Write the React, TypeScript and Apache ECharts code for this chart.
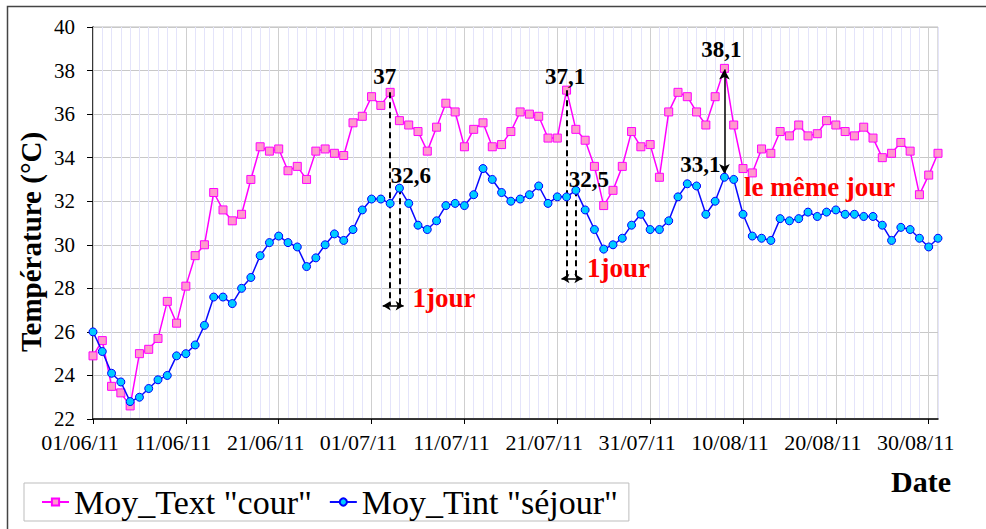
import React, { useEffect, useRef } from "react";
import * as echarts from "echarts";

const dates: string[] = [
  "01/06/11","02/06/11","03/06/11","04/06/11","05/06/11","06/06/11","07/06/11","08/06/11","09/06/11","10/06/11",
  "11/06/11","12/06/11","13/06/11","14/06/11","15/06/11","16/06/11","17/06/11","18/06/11","19/06/11","20/06/11",
  "21/06/11","22/06/11","23/06/11","24/06/11","25/06/11","26/06/11","27/06/11","28/06/11","29/06/11","30/06/11",
  "01/07/11","02/07/11","03/07/11","04/07/11","05/07/11","06/07/11","07/07/11","08/07/11","09/07/11","10/07/11",
  "11/07/11","12/07/11","13/07/11","14/07/11","15/07/11","16/07/11","17/07/11","18/07/11","19/07/11","20/07/11",
  "21/07/11","22/07/11","23/07/11","24/07/11","25/07/11","26/07/11","27/07/11","28/07/11","29/07/11","30/07/11",
  "31/07/11","01/08/11","02/08/11","03/08/11","04/08/11","05/08/11","06/08/11","07/08/11","08/08/11","09/08/11",
  "10/08/11","11/08/11","12/08/11","13/08/11","14/08/11","15/08/11","16/08/11","17/08/11","18/08/11","19/08/11",
  "20/08/11","21/08/11","22/08/11","23/08/11","24/08/11","25/08/11","26/08/11","27/08/11","28/08/11","29/08/11",
  "30/08/11","31/08/11"
];

const textCour: number[] = [
  24.9,25.6,23.5,23.2,22.6,25.0,25.2,25.7,27.4,26.4,28.1,29.5,30.0,32.4,31.6,31.1,
  31.4,33.0,34.5,34.3,34.4,33.4,33.6,33.0,34.3,34.4,34.2,34.1,35.6,35.9,36.8,
  36.4,37.0,35.7,35.5,35.2,34.3,35.4,36.5,36.1,34.5,35.3,35.6,34.5,34.6,35.2,
  36.1,36.0,35.9,34.9,34.9,37.1,35.3,34.8,33.6,31.8,32.5,33.6,35.2,34.5,34.6,
  33.1,36.1,37.0,36.8,36.1,35.5,36.8,38.1,35.5,33.5,33.3,34.4,34.2,35.2,35.0,
  35.5,35.0,35.1,35.7,35.5,35.2,35.0,35.4,34.9,34.0,34.2,34.7,34.3,32.3,33.2,34.2
];

const tintSejour: number[] = [
  26.0,25.1,24.1,23.7,22.8,23.0,23.4,23.8,24.0,24.9,25.0,25.4,26.3,27.6,27.6,27.3,
  28.0,28.5,29.5,30.1,30.4,30.1,29.9,29.0,29.4,30.0,30.5,30.2,30.7,31.6,32.1,
  32.1,31.9,32.6,31.9,30.9,30.7,31.1,31.8,31.9,31.8,32.3,33.5,33.0,32.4,32.0,
  32.1,32.3,32.7,31.9,32.2,32.2,32.5,31.6,30.7,29.8,30.0,30.3,30.9,31.4,30.7,
  30.7,31.1,32.2,32.8,32.7,31.4,32.0,33.1,33.0,31.4,30.4,30.3,30.2,31.2,31.1,
  31.2,31.5,31.3,31.5,31.6,31.4,31.4,31.3,31.3,30.9,30.2,30.8,30.7,30.3,29.9,30.3
];

const seriesNames = ['Moy_Text "cour"', 'Moy_Tint "séjour"'];

const FONT = "'Liberation Serif', 'Times New Roman', serif";

const peakLabelStyle = {
  show: true,
  color: "#000",
  fontFamily: FONT,
  fontSize: 23,
  fontWeight: "bold" as const,
  align: "center",
  verticalAlign: "middle",
};

// annotated points: index -> label text and position (relative to the symbol box)
const textLabels: Record<number, any> = {
  32: { formatter: "37", position: [-1, -11.5] },
  51: { formatter: "37,1", position: [3, -9] },
  68: { formatter: "38,1", position: [1.5, -14.5] },
};
const tintLabels: Record<number, any> = {
  33: { formatter: "32,6", position: [16, -8] },
  52: { formatter: "32,5", position: [17.5, -6.5] },
  68: { formatter: "33,1", position: [-19.5, -8.5] },
};

function buildData(values: number[], labels: Record<number, any>) {
  return values.map((v, i) =>
    labels[i] ? { value: v, label: { ...peakLabelStyle, ...labels[i] } } : v
  );
}

const dashed = { type: [6, 4] as any, color: "#000", width: 2 };
const solid = { type: "solid" as const, color: "#000", width: 1.5 };

export default function App() {
  const ref = useRef<HTMLDivElement>(null);

  useEffect(() => {
    if (!ref.current) return;
    const chart = echarts.init(ref.current, undefined, { renderer: "svg" });

    const gridColors = ["#cfcfcf"];
    for (let k = 0; k < 9; k++) gridColors.push("#e4e4fa");

    const redText = (txt: string) => ({
      show: true,
      position: "right",
      distance: 0,
      formatter: txt,
      color: "#ff0000",
      fontFamily: FONT,
      fontSize: 27,
      fontWeight: "bold",
    });

    chart.setOption({
      animation: false,
      backgroundColor: "#ffffff",
      grid: {
        left: 93,
        top: 27,
        width: 845,
        height: 392,
        show: true,
        borderColor: "#bdbdbd",
        borderWidth: 1,
        containLabel: false,
      },
      legend: {
        left: 24,
        top: 483,
        orient: "horizontal",
        itemGap: 17,
        itemWidth: 27,
        itemHeight: 9,
        padding: [1, 11, 1, 17],
        borderColor: "#bdbdbd",
        borderWidth: 1,
        textStyle: { fontFamily: FONT, fontSize: 34, color: "#000", lineHeight: 36 },
        data: seriesNames,
      },
      xAxis: [
        {
          type: "category",
          data: dates,
          boundaryGap: false,
          axisLine: { show: true, lineStyle: { color: "#000", width: 1.5 } },
          axisTick: { show: true, interval: 9, inside: false, length: 5, lineStyle: { color: "#000" } },
          axisLabel: {
            interval: 9,
            margin: 12,
            color: "#000",
            fontFamily: FONT,
            fontSize: 22,
            padding: [0, 26, 0, 0],
          },
          splitLine: { show: true, interval: 0, lineStyle: { color: gridColors, width: 1 } },
          z: 3,
        },
        {
          type: "value",
          min: 0,
          max: dates.length - 1,
          show: false,
          gridIndex: 0,
        },
      ],
      yAxis: {
        type: "value",
        min: 22,
        max: 40,
        interval: 2,
        axisLine: { show: true, lineStyle: { color: "#000", width: 1.5 } },
        axisTick: { show: true, inside: false, length: 6, lineStyle: { color: "#000" } },
        axisLabel: { margin: 18, color: "#000", fontFamily: FONT, fontSize: 21 },
        splitLine: { show: true, lineStyle: { color: "#c8c8c8", width: 1 } },
      },
      graphic: [
        {
          type: "rect",
          shape: { x: 7.5, y: 6.5, width: 1100, height: 700 },
          style: { fill: "none", stroke: "#444", lineWidth: 1.5 },
          silent: true,
        },
        {
          type: "text",
          x: 31,
          y: 242,
          rotation: Math.PI / 2,
          style: {
            text: "Température (°C)",
            font: `bold 29px ${FONT}`,
            fill: "#000",
            textAlign: "center",
            textVerticalAlign: "middle",
            align: "center",
            verticalAlign: "middle",
          },
        },
        {
          type: "text",
          x: 921,
          y: 481,
          style: {
            text: "Date",
            font: `bold 30px ${FONT}`,
            fill: "#000",
            textAlign: "center",
            textVerticalAlign: "middle",
            align: "center",
            verticalAlign: "middle",
          },
        },
      ],
      series: [
        {
          name: seriesNames[0],
          type: "line",
          data: buildData(textCour, textLabels),
          symbol: "rect",
          symbolSize: 8,
          showSymbol: true,
          showAllSymbol: true,
          lineStyle: { color: "#ff00ff", width: 1.5 },
          itemStyle: { color: "#ff99cc", borderColor: "#ff00ff", borderWidth: 1 },
          label: { show: false },
          labelLayout: { hideOverlap: false },
          z: 4,
        },
        {
          name: seriesNames[1],
          type: "line",
          data: buildData(tintSejour, tintLabels),
          symbol: "circle",
          symbolSize: 8,
          showSymbol: true,
          showAllSymbol: true,
          lineStyle: { color: "#0a0aff", width: 1.5 },
          itemStyle: { color: "#00ccff", borderColor: "#0000ff", borderWidth: 1 },
          label: { show: false },
          labelLayout: { hideOverlap: false },
          z: 5,
        },
        {
          name: "annotations",
          type: "line",
          xAxisIndex: 1,
          yAxisIndex: 0,
          data: [],
          silent: true,
          markLine: {
            silent: true,
            animation: false,
            symbol: ["none", "none"],
            label: { show: false },
            emphasis: { disabled: true },
            data: [
              [{ coord: [32, 37.0], lineStyle: dashed }, { coord: [32, 27.2] }],
              [{ coord: [33, 32.6], lineStyle: dashed }, { coord: [33, 27.2] }],
              [
                { coord: [31.2, 27.2], symbol: "arrow", symbolSize: [7, 8], lineStyle: solid },
                { coord: [33.45, 27.2], symbol: "arrow", symbolSize: [7, 8] },
              ],
              [{ coord: [51, 37.1], lineStyle: dashed }, { coord: [51, 28.45] }],
              [{ coord: [52, 32.5], lineStyle: dashed }, { coord: [52, 28.45] }],
              [
                { coord: [50.45, 28.45], symbol: "arrow", symbolSize: [7, 8], lineStyle: solid },
                { coord: [52.7, 28.45], symbol: "arrow", symbolSize: [7, 8] },
              ],
              [
                { coord: [68, 38.05], symbol: "arrow", symbolSize: [8, 10], lineStyle: solid },
                { coord: [68, 33.25], symbol: "arrow", symbolSize: [8, 10] },
              ],
            ],
          },
          markPoint: {
            silent: true,
            animation: false,
            symbol: "circle",
            symbolSize: 0,
            itemStyle: { color: "rgba(0,0,0,0)" },
            data: [
              { coord: [34.4, 27.55], label: redText("1jour") },
              { coord: [53.2, 28.93], label: redText("1jour") },
              { coord: [70.1, 32.66], label: redText("le même jour") },
            ],
          },
        },
      ],
    });

    return () => chart.dispose();
  }, []);

  return (
    <div
      ref={ref}
      style={{ position: "fixed", left: 0, top: 0, width: 986, height: 529, background: "#fff" }}
    />
  );
}
